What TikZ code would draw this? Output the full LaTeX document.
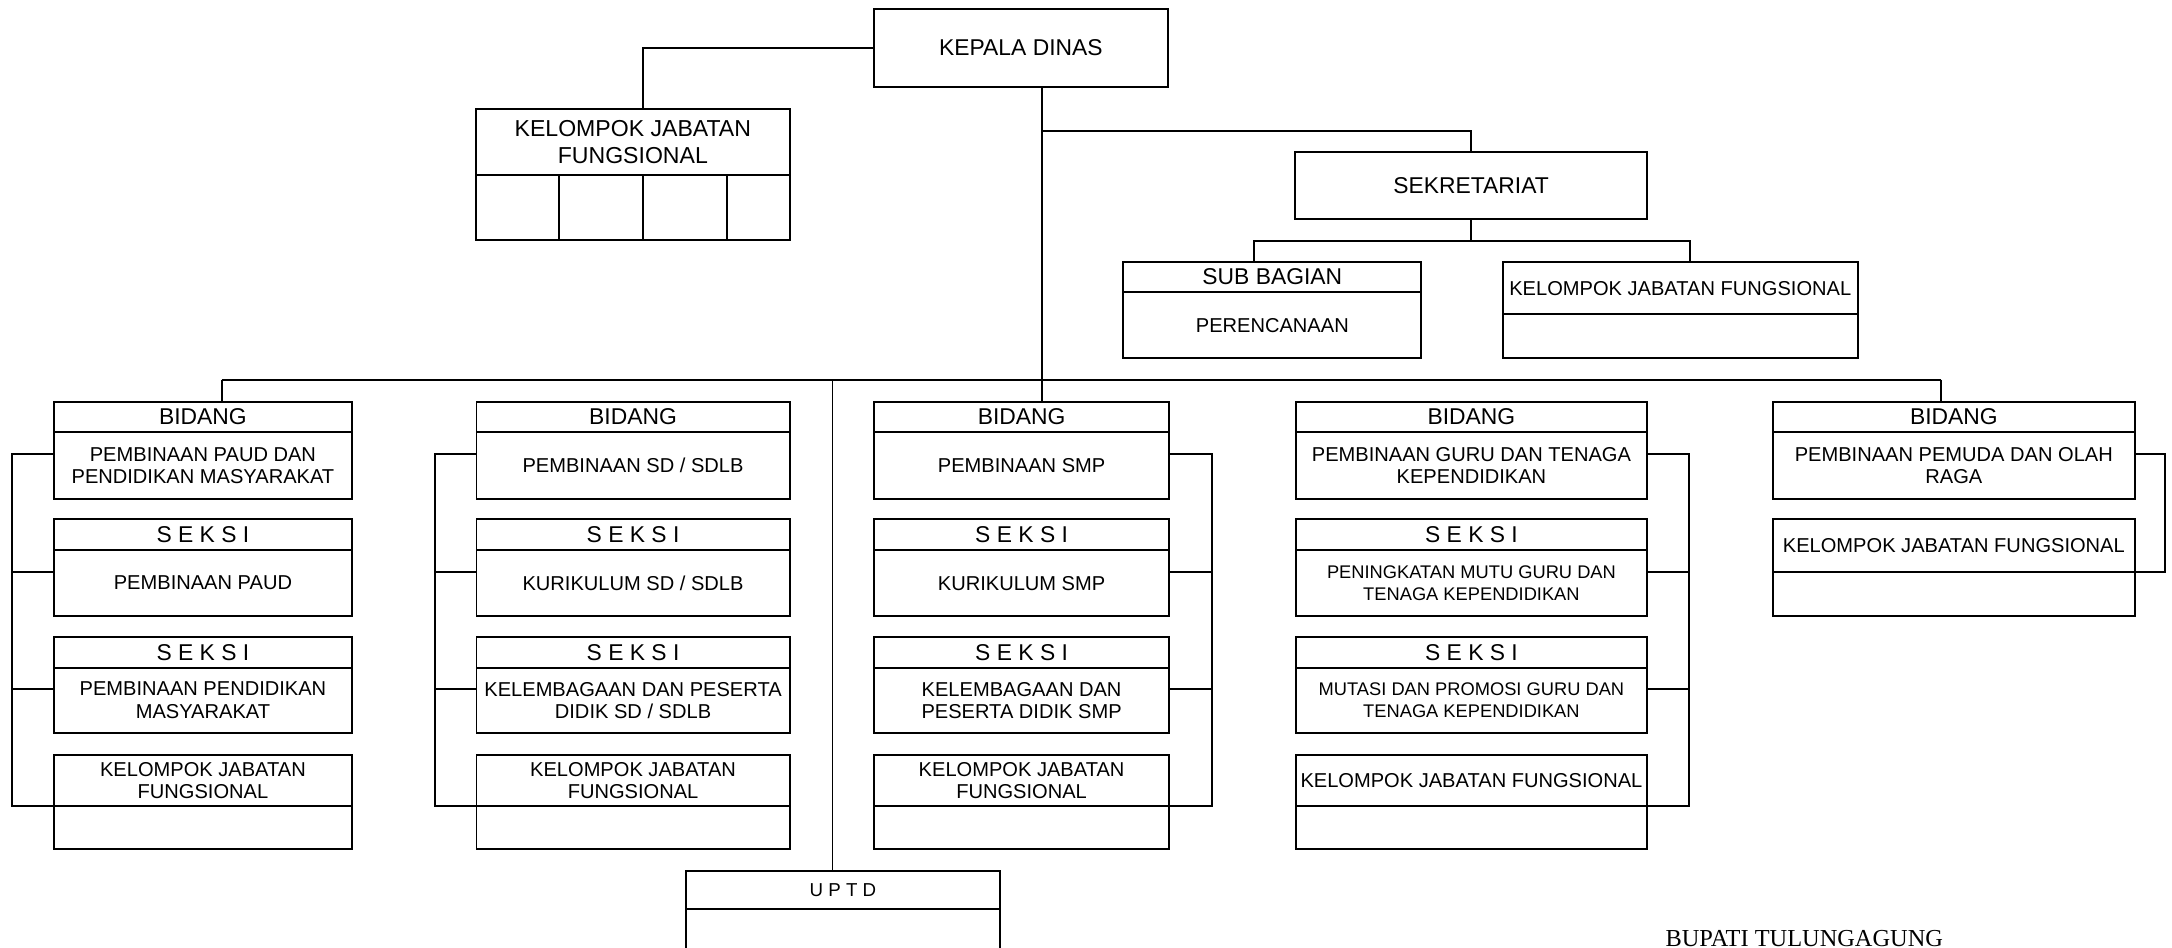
\documentclass[tikz,border=0pt]{standalone}
\usepackage{fontspec}
\setmainfont{Liberation Sans}
\newfontfamily\serifb{Liberation Serif}
\usetikzlibrary{calc}
% #1 name, #2 x1, #3 x2, #4 ytop, #5 ydiv, #6 ybot, #7 header style, #8 header text, #9 body text
\newcommand\obox[9]{%
  \node[cell, #7, minimum width={(#3-#2)*0.5pt}, minimum height={(#5-#4)*0.5pt}] (#1h) at ({(#2+#3)/2},{(#4+#5)/2}) {#8};
  \node[cell, bdy, minimum width={(#3-#2)*0.5pt}, minimum height={(#6-#5)*0.5pt}] (#1b) at ({(#2+#3)/2},{(#5+#6)/2}) {#9};
}
% bracket for a 4-box column: #1 prefix, #2 side (west/east), #3 x of bracket
\newcommand\colbrack[3]{%
  \coordinate (#1x) at (#3,0);
  \coordinate (#1t1) at ($(#1ab.north #2)!0.33!(#1ab.south #2)$);
  \coordinate (#1t2) at ($(#1bb.north #2)!0.33!(#1bb.south #2)$);
  \coordinate (#1t3) at ($(#1cb.north #2)!0.33!(#1cb.south #2)$);
  \draw[link] (#1t1) -- (#1t1 -| #1x) -- (#1dh.south #2 -| #1x) -- (#1dh.south #2);
  \draw[link] (#1t2) -- (#1t2 -| #1x);
  \draw[link] (#1t3) -- (#1t3 -| #1x);
}
\begin{document}
\begin{tikzpicture}[x=0.5pt,y=-0.5pt,
  cell/.style={draw, rectangle, inner sep=0pt, outer sep=0pt, align=center, line width=0.7pt},
  link/.style={line width=0.7pt},
  hdr/.style={font=\fontsize{8.25}{9}\selectfont},
  bdy/.style={font=\fontsize{7.25}{8}\selectfont},
  kfjfont/.style={font=\fontsize{8.33}{9.8}\selectfont},
  uptdfont/.style={font=\fontsize{6.75}{8}\selectfont}]
\useasboundingbox (0,0) rectangle (1568,684);
\clip (0,0) rectangle (1568,684);

% top level
\node[cell, hdr, minimum width={(843-631)*0.5pt}, minimum height={(63-6.5)*0.5pt}] (kepala) at (737,34.75) {KEPALA DINAS};
\obox{kf}{343.7}{570}{79}{126.4}{173}{kfjfont}{KELOMPOK JABATAN\\FUNGSIONAL}{}
\coordinate (kfd1) at (403.6,0);
\coordinate (kfd2) at (464,0);
\coordinate (kfd3) at (525,0);
\draw[link] (kfb.north -| kfd1) -- (kfb.south -| kfd1);
\draw[link] (kfb.north -| kfd2) -- (kfb.south -| kfd2);
\draw[link] (kfb.north -| kfd3) -- (kfb.south -| kfd3);
\draw[link] (kepala.west) -| (kfh.north -| kfd2);

\node[cell, hdr, minimum width={(1189-935)*0.5pt}, minimum height={(158-110)*0.5pt}] (sek) at (1062,134) {SEKRETARIAT};
\obox{sb}{811}{1026}{189}{211}{258.5}{hdr}{SUB BAGIAN}{PERENCANAAN}
\obox{ks}{1085}{1341}{189}{227}{258.5}{bdy}{KELOMPOK JABATAN FUNGSIONAL}{}

% column 1
\obox{c1a}{39}{254}{290}{312}{360}{hdr}{BIDANG}{PEMBINAAN PAUD DAN\\PENDIDIKAN MASYARAKAT}
\obox{c1b}{39}{254}{375}{397}{445}{hdr}{S E K S I}{PEMBINAAN PAUD}
\obox{c1c}{39}{254}{460}{482}{529}{hdr}{S E K S I}{PEMBINAAN PENDIDIKAN\\MASYARAKAT}
\obox{c1d}{39}{254}{545}{582}{613}{bdy}{KELOMPOK JABATAN\\FUNGSIONAL}{}
% column 2
\obox{c2a}{344}{570}{290}{312}{360}{hdr}{BIDANG}{PEMBINAAN SD / SDLB}
\obox{c2b}{344}{570}{375}{397}{445}{hdr}{S E K S I}{KURIKULUM SD / SDLB}
\obox{c2c}{344}{570}{460}{482}{529}{hdr}{S E K S I}{KELEMBAGAAN DAN PESERTA\\DIDIK SD / SDLB}
\obox{c2d}{344}{570}{545}{582}{613}{bdy}{KELOMPOK JABATAN\\FUNGSIONAL}{}
% column 3
\obox{c3a}{631}{844}{290}{312}{360}{hdr}{BIDANG}{PEMBINAAN SMP}
\obox{c3b}{631}{844}{375}{397}{445}{hdr}{S E K S I}{KURIKULUM SMP}
\obox{c3c}{631}{844}{460}{482}{529}{hdr}{S E K S I}{KELEMBAGAAN DAN\\PESERTA DIDIK SMP}
\obox{c3d}{631}{844}{545}{582}{613}{bdy}{KELOMPOK JABATAN\\FUNGSIONAL}{}
% column 4
\obox{c4a}{935.5}{1189}{290}{312}{360}{hdr}{BIDANG}{PEMBINAAN GURU DAN TENAGA\\KEPENDIDIKAN}
\begin{scope}[bdy/.style={font=\fontsize{6.6}{8}\selectfont}]
\obox{c4b}{935.5}{1189}{375}{397}{445}{hdr}{S E K S I}{PENINGKATAN MUTU GURU DAN\\TENAGA KEPENDIDIKAN}
\obox{c4c}{935.5}{1189}{460}{482}{529}{hdr}{S E K S I}{MUTASI DAN PROMOSI GURU DAN\\TENAGA KEPENDIDIKAN}
\end{scope}
\obox{c4d}{935.5}{1189}{545}{582}{613}{bdy}{KELOMPOK JABATAN FUNGSIONAL}{}
% column 5
\obox{c5a}{1280}{1541}{290}{312}{360}{hdr}{BIDANG}{PEMBINAAN PEMUDA DAN OLAH\\RAGA}
\obox{c5b}{1280}{1541}{375}{413}{445}{bdy}{KELOMPOK JABATAN FUNGSIONAL}{}
% UPTD
\obox{up}{495}{722}{629}{656}{740}{uptdfont}{U P T D}{}

% trunk and branches
\coordinate (trunk) at (752,274);
\coordinate (sekj) at (752,94.5);
\coordinate (busL) at (160,274);
\coordinate (busR) at (1401,274);
\coordinate (uptdj) at (601,274);
\coordinate (subL) at (905.6,174);
\coordinate (subR) at (1220,174);
\draw[link] (kepala.south -| trunk) -- (c3ah.north -| trunk);
\draw[link] (sekj) -| (sek.north);
\draw[link] (sek.south) -- (sek.south |- subL);
\draw[link] (sbh.north -| subL) -- (subL) -- (subR) -- (ksh.north -| subR);
\draw[link] (busL) -- (busR);
\draw[link] (busL) -- (c1ah.north -| busL);
\draw[link] (busR) -- (c5ah.north -| busR);
\draw[link] (uptdj) -- (uph.north -| uptdj);

% brackets
\colbrack{c1}{west}{9}
\colbrack{c2}{west}{314}
\colbrack{c3}{east}{875}
\colbrack{c4}{east}{1219}
\coordinate (c5x) at (1563,0);
\coordinate (c5t1) at ($(c5ab.north east)!0.33!(c5ab.south east)$);
\draw[link] (c5t1) -- (c5t1 -| c5x) -- (c5bh.south east -| c5x) -- (c5bh.south east);

\node[anchor=base west, inner sep=0pt, font=\serifb\fontsize{8.8}{10}\selectfont] (bupati) at (1202,683) {BUPATI TULUNGAGUNG};
\end{tikzpicture}
\end{document}
